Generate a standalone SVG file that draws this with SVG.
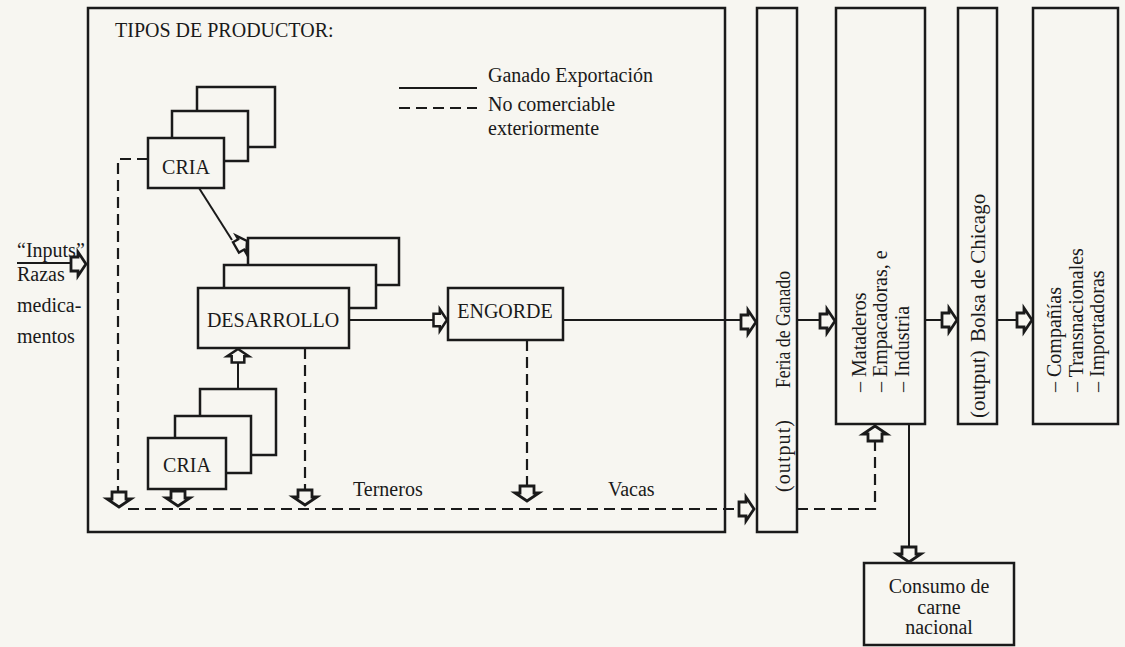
<svg xmlns="http://www.w3.org/2000/svg" xmlns:xlink="http://www.w3.org/1999/xlink" width="1125" height="647" viewBox="0 0 1125 647">
<style>
text{font-family:"Liberation Serif","Times New Roman",serif;font-size:20px;fill:#1a1a1a}
.box{fill:#f7f6f1;stroke:#1a1a1a;stroke-width:2.5}
.ln{fill:none;stroke:#1a1a1a;stroke-width:2}
.dash{fill:none;stroke:#1a1a1a;stroke-width:2.2;stroke-dasharray:11 6}
.arw{fill:#f7f6f1;stroke:#1a1a1a;stroke-width:2.8;stroke-linejoin:miter}
.c{text-anchor:middle}
.b21{font-size:21px}
</style>
<defs>
<path id="ar" class="arw" d="M-15,-7 H-8 V-12 L0,0 L-8,12 V7 H-15 Z"/>
</defs>
<rect width="1125" height="647" fill="#f7f6f1"/>

<g id="frame">
<rect class="box" x="88" y="8" width="637" height="524" fill="none"/>
<text x="115" y="37">TIPOS DE PRODUCTOR:</text>
</g>

<g id="legend">
<line class="ln" x1="399" y1="88" x2="477" y2="88"/>
<line class="dash" x1="399" y1="108" x2="477" y2="108" stroke-dasharray="12 5"/>
<text x="488" y="82">Ganado Exportación</text>
<text x="488" y="111">No comerciable</text>
<text x="488" y="135">exteriormente</text>
</g>

<g id="connectors">
<polyline class="dash" points="148,159 118,159 118,492"/>
<line class="dash" x1="305" y1="348" x2="305" y2="489"/>
<line class="dash" x1="527" y1="340" x2="527" y2="486"/>
<line class="dash" x1="128" y1="509" x2="740" y2="509"/>
<polyline class="dash" points="797,509 875,509 875,440"/>
<line class="ln" x1="17" y1="263" x2="71" y2="263"/>
<line class="ln" x1="199" y1="188" x2="232" y2="240"/>
<line class="ln" x1="238" y1="389" x2="238" y2="362"/>
<line class="ln" x1="349" y1="320" x2="433" y2="320"/>
<line class="ln" x1="563" y1="320" x2="741" y2="320"/>
<line class="ln" x1="797" y1="320" x2="820" y2="320"/>
<line class="ln" x1="925" y1="320" x2="942" y2="320"/>
<line class="ln" x1="997" y1="320" x2="1017" y2="320"/>
<line class="ln" x1="909" y1="424" x2="909" y2="547"/>
<use xlink:href="#ar" href="#ar" transform="translate(86,264)"/>
<use xlink:href="#ar" href="#ar" transform="translate(247,241) rotate(-30) scale(0.85)"/>
<use xlink:href="#ar" href="#ar" transform="translate(238,349) rotate(-90) scale(0.9)"/>
<use xlink:href="#ar" href="#ar" transform="translate(447,320) scale(0.9)"/>
<use xlink:href="#ar" href="#ar" transform="translate(756,322)"/>
<use xlink:href="#ar" href="#ar" transform="translate(835,321)"/>
<use xlink:href="#ar" href="#ar" transform="translate(957,320)"/>
<use xlink:href="#ar" href="#ar" transform="translate(1032,320)"/>
<use xlink:href="#ar" href="#ar" transform="translate(754,509)"/>
<use xlink:href="#ar" href="#ar" transform="translate(875,426) rotate(-90)"/>
<use xlink:href="#ar" href="#ar" transform="translate(909,562) rotate(90)"/>
<use xlink:href="#ar" href="#ar" transform="translate(119,507) rotate(90)"/>
<use xlink:href="#ar" href="#ar" transform="translate(178,506) rotate(90)"/>
<use xlink:href="#ar" href="#ar" transform="translate(305,505) rotate(90)"/>
<use xlink:href="#ar" href="#ar" transform="translate(527,501) rotate(90)"/>
</g>

<g id="labels">
<text x="17" y="257">“Inputs”</text>
<text x="17" y="281">Razas</text>
<text x="17" y="312">medica-</text>
<text x="17" y="343">mentos</text>
<text x="353" y="496">Terneros</text>
<text x="608" y="496">Vacas</text>
</g>

<g id="cria-top">
<rect class="box" x="197" y="87" width="78" height="60"/>
<rect class="box" x="172" y="111" width="76" height="50"/>
<rect class="box" x="148" y="138" width="76" height="50"/>
<text class="c" x="186" y="174">CRIA</text>
</g>

<g id="desarrollo">
<rect class="box" x="248" y="238" width="151" height="47"/>
<rect class="box" x="224" y="265" width="152" height="43"/>
<rect class="box" x="198" y="288" width="151" height="60"/>
<text class="c" x="273" y="327">DESARROLLO</text>
</g>

<g id="cria-bottom">
<rect class="box" x="200" y="389" width="76" height="66"/>
<rect class="box" x="175" y="416" width="76" height="57"/>
<rect class="box" x="148" y="438" width="78" height="51"/>
<text class="c" x="187" y="472">CRIA</text>
</g>

<g id="engorde">
<rect class="box" x="448" y="288" width="115" height="52"/>
<text class="c" x="505" y="318">ENGORDE</text>
</g>

<g id="feria">
<rect class="box" x="757" y="8" width="40" height="524"/>
<text transform="translate(790,492) rotate(-90)" textLength="72" lengthAdjust="spacing">(output)</text>
<text transform="translate(790,388) rotate(-90)" textLength="117" lengthAdjust="spacingAndGlyphs">Feria de Ganado</text>
</g>

<g id="mataderos">
<rect class="box" x="836" y="8" width="89" height="416"/>
<text transform="translate(866,392) rotate(-90)">– Mataderos</text>
<text transform="translate(887,392) rotate(-90)">– Empacadoras, e</text>
<text transform="translate(909,392) rotate(-90)">– Industria</text>
</g>

<g id="bolsa">
<rect class="box" x="958" y="8" width="39" height="416"/>
<text class="b21" transform="translate(985,418) rotate(-90)">(output)</text>
<text class="b21" transform="translate(985,342) rotate(-90)">Bolsa de Chicago</text>
</g>

<g id="companias">
<rect class="box" x="1033" y="8" width="85" height="416"/>
<text transform="translate(1061,392) rotate(-90)">– Compañías</text>
<text transform="translate(1083,392) rotate(-90)">– Transnacionales</text>
<text transform="translate(1104,392) rotate(-90)">– Importadoras</text>
</g>

<g id="consumo">
<rect class="box" x="864" y="563" width="150" height="82"/>
<text class="c" x="939" y="593">Consumo de</text>
<text class="c" x="939" y="614">carne</text>
<text class="c" x="939" y="634">nacional</text>
</g>
</svg>
